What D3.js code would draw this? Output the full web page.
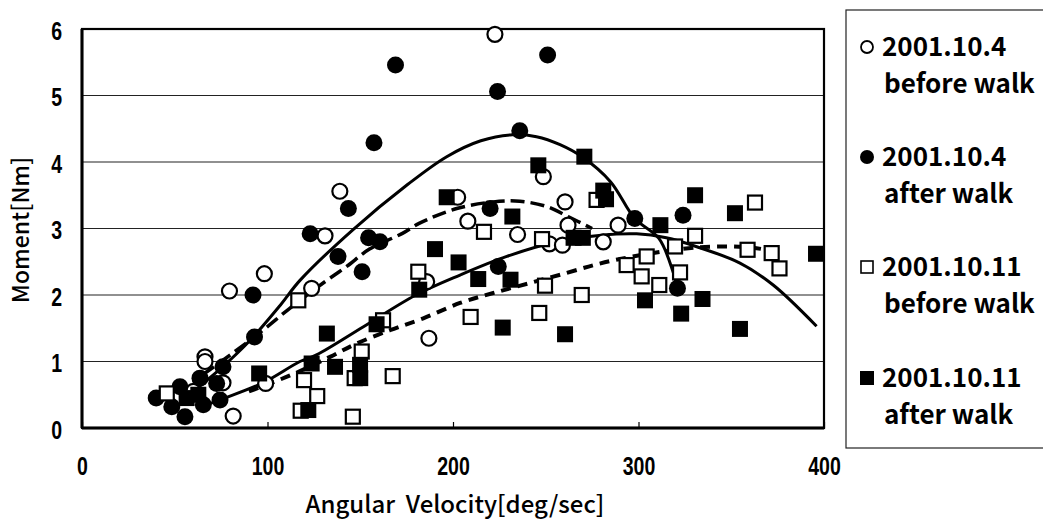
<!DOCTYPE html>
<html><head><meta charset="utf-8">
<script src="https://cdn.jsdelivr.net/npm/d3@7"></script>
<style>
html,body{margin:0;padding:0;background:#fff;}
svg{display:block;}
</style></head>
<body>
<svg id="c" width="1043" height="521"></svg>
<script>
// ---------- data ----------
const seriesNames = ["2001.10.4", "2001.10.4", "2001.10.11", "2001.10.11"];
const seriesSub = ["before walk", "after walk", "before walk", "after walk"];
const xTicks = [0, 100, 200, 300, 400];
const yTicks = [0, 1, 2, 3, 4, 5, 6];

// 2001.10.4 before walk (open circles) [velocity, moment]
const before1004 = [[222.6,5.92],[248.7,3.78],[139,3.56],[202.5,3.47],[208,3.11],[131,2.89],[234.8,2.91],
  [252,2.77],[259,2.75],[262,3.05],[260.4,3.40],[289,3.05],[281,2.80],[123.8,2.10],[98.3,2.32],[79.5,2.06],
  [187,1.35],[185.8,2.20],[66.3,1.07],[66.3,1.00],[99,0.67],[76,0.68],[81.5,0.18],[60,0.55]];
// 2001.10.4 after walk (filled circles)
const after1004 = [[169,5.46],[251,5.61],[224,5.06],[236,4.47],[157.4,4.29],[143.6,3.30],[220,3.30],[123,2.92],
  [154.5,2.86],[160.6,2.80],[138,2.58],[151,2.35],[92.2,2.0],[224.4,2.43],[298,3.15],[324,3.20],[321,2.1],
  [93,1.37],[40,0.45],[55.5,0.17],[52.8,0.62],[63.6,0.75],[72.6,0.67],[74.4,0.42],[65.4,0.35],[48.4,0.32],[76,0.92]];
// 2001.10.11 before walk (open squares)
const before1011 = [[216.7,2.95],[248,2.84],[116.6,1.92],[181.3,2.35],[249.6,2.14],[246.5,1.73],[209.5,1.67],
  [162.3,1.62],[150.8,1.15],[167.5,0.78],[119.7,0.72],[126.8,0.48],[117.9,0.26],[146,0.17],[277.4,3.43],
  [362.8,3.39],[330.5,2.89],[319.7,2.73],[358.8,2.68],[371.8,2.63],[376,2.40],[304.4,2.58],[293.6,2.45],
  [301.7,2.28],[322.4,2.34],[311.2,2.15],[269.4,2.0],[45.7,0.52],[147,0.75]];
// 2001.10.11 after walk (filled squares)
const after1011 = [[246,3.95],[270.8,4.08],[196.6,3.47],[232,3.18],[190.3,2.69],[203,2.49],[181.8,2.08],
  [213.6,2.24],[231,2.23],[226.8,1.51],[132,1.42],[158.8,1.56],[260.4,1.41],[123.8,0.97],[136.4,0.92],
  [149.9,0.95],[150,0.75],[122,0.27],[281,3.57],[282.5,3.44],[330.5,3.50],[352,3.23],[311.8,3.05],
  [265,2.86],[270,2.86],[395.7,2.62],[303.5,1.92],[334.5,1.94],[323,1.72],[354.7,1.49],[95.5,0.82],
  [56.4,0.45],[62.7,0.50]];

// fitted trend curves
const fitAfter1004 = [[60,0.55],[75,0.9],[90,1.3],[107,1.85],[117.5,2.22],[146,2.98],[175,3.65],[196.6,4.08],
  [215,4.32],[232,4.41],[245,4.38],[257.7,4.26],[270,4.07],[285,3.7],[298,3.15],[311,2.85],[318.6,2.35],[321,2.1]];
const fitBefore1004 = [[65,0.8],[80,1.1],[97.5,1.47],[112,1.8],[130,2.18],[142.7,2.43],[155,2.69],[173,2.93],
  [182,3.08],[202,3.30],[221.7,3.40],[236,3.41],[250.5,3.33],[262,3.18],[275,3.0]];
const fitAfter1011 = [[62,0.3],[77,0.45],[97.6,0.68],[117.5,1.0],[126.4,1.10],[151.5,1.52],[180,2.0],[203.8,2.30],
  [229,2.58],[256,2.80],[280,2.90],[299,2.92],[315,2.86],[331,2.73],[354.7,2.48],[372.6,2.15],[396,1.53]];
const fitBefore1011 = [[90,0.55],[113,0.8],[133.7,1.07],[148,1.27],[166,1.47],[184,1.65],[203.8,1.88],
  [221.7,2.03],[241.5,2.18],[261,2.33],[277.4,2.46],[291.6,2.55],[322.4,2.69],[342,2.73],[361.7,2.71],[372.6,2.66]];

// ---------- chart ----------
const svg = d3.select("#c");
const x = d3.scaleLinear().domain([0,400]).range([82,824]);
const y = d3.scaleLinear().domain([0,6]).range([428,29]);
const tickFont = "'Liberation Sans',Arial,sans-serif";
const textFont = "'Noto Sans CJK JP','Noto Sans',sans-serif";

// gridlines
svg.append("g").selectAll("line").data(yTicks.filter(d=>d>0 && d<6)).join("line")
  .attr("x1",x(0)).attr("x2",x(400)).attr("y1",d=>y(d)).attr("y2",d=>y(d))
  .attr("stroke","#222").attr("stroke-width",1.2);

// frame
svg.append("rect").attr("x",x(0)).attr("y",y(6)).attr("width",x(400)-x(0)).attr("height",y(0)-y(6))
  .attr("fill","none").attr("stroke","#000").attr("stroke-width",2.2);
svg.append("line").attr("x1",x(0)).attr("x2",x(0)).attr("y1",y(6)).attr("y2",y(0)).attr("stroke","#000").attr("stroke-width",3);
svg.append("line").attr("x1",x(0)).attr("x2",x(400)).attr("y1",y(0)).attr("y2",y(0)).attr("stroke","#000").attr("stroke-width",3);

// x axis
const xAxis = d3.axisBottom(x).tickValues(xTicks).tickSize(-6).tickPadding(30).tickFormat(d3.format("d"));
const gx = svg.append("g").attr("transform",`translate(0,${y(0)})`).call(xAxis);
gx.select(".domain").remove();
gx.selectAll(".tick line").attr("stroke","#000").attr("stroke-width",1.2);
gx.selectAll("text").attr("font-family",tickFont).attr("font-weight","bold").attr("font-size",23).attr("fill","#000")
  .attr("transform","translate(0,44) scale(0.85,1.1) translate(0,-44)");

// y axis
const yAxis = d3.axisLeft(y).tickValues(yTicks).tickSize(0).tickPadding(20).tickFormat(d3.format("d"));
const gy = svg.append("g").attr("transform",`translate(${x(0)},0)`).call(yAxis);
gy.select(".domain").remove();
gy.selectAll("text").attr("font-family",tickFont).attr("font-weight","bold").attr("font-size",23).attr("fill","#000")
  .attr("transform","translate(-20,2) scale(0.85,1.1) translate(20,0)");

// axis titles
svg.append("text").attr("x",455).attr("y",513).attr("text-anchor","middle")
  .attr("font-family",textFont).attr("font-size",24).attr("font-weight",500).attr("fill","#000")
  .attr("xml:space","preserve").text("Angular  Velocity[deg/sec]");
svg.append("text").attr("transform","translate(29,230) rotate(-90)").attr("text-anchor","middle")
  .attr("font-family",textFont).attr("font-size",23).attr("font-weight",500).attr("fill","#000")
  .text("Moment[Nm]");

// fit curves
const line = d3.line().x(d=>x(d[0])).y(d=>y(d[1])).curve(d3.curveCatmullRom.alpha(0.5));
const curves = [
  {d:fitAfter1004, dash:null, w:3},
  {d:fitBefore1004, dash:"14,6", w:3.5},
  {d:fitAfter1011, dash:null, w:3},
  {d:fitBefore1011, dash:"10,7", w:4}
];
svg.append("g").selectAll("path").data(curves).join("path")
  .attr("d",c=>line(c.d)).attr("fill","none").attr("stroke","#000")
  .attr("stroke-width",c=>c.w).attr("stroke-dasharray",c=>c.dash);

// markers
const R = 8.5, S = 16;
const gm = svg.append("g");
gm.selectAll(".oc").data(before1004).join("circle").attr("class","oc")
  .attr("cx",d=>x(d[0])).attr("cy",d=>y(d[1])).attr("r",R-1)
  .attr("fill","#fff").attr("stroke","#000").attr("stroke-width",2.2);
gm.selectAll(".fc").data(after1004).join("circle").attr("class","fc")
  .attr("cx",d=>x(d[0])).attr("cy",d=>y(d[1])).attr("r",R).attr("fill","#000");
gm.selectAll(".os").data(before1011).join("rect").attr("class","os")
  .attr("x",d=>x(d[0])-S/2+1).attr("y",d=>y(d[1])-S/2+1).attr("width",S-2).attr("height",S-2)
  .attr("fill","#fff").attr("stroke","#000").attr("stroke-width",2.2);
gm.selectAll(".fs").data(after1011).join("rect").attr("class","fs")
  .attr("x",d=>x(d[0])-S/2).attr("y",d=>y(d[1])-S/2).attr("width",S).attr("height",S).attr("fill","#000");

// legend
svg.append("rect").attr("x",846).attr("y",10).attr("width",220).attr("height",438)
  .attr("fill","none").attr("stroke","#222").attr("stroke-width",1.2);
const legY = [47, 157, 267, 378];
const lg = svg.append("g").selectAll("g").data(seriesNames).join("g")
  .attr("transform",(d,i)=>`translate(0,${legY[i]})`);
lg.each(function(d,i){
  const g = d3.select(this);
  if(i===0) g.append("circle").attr("cx",867).attr("cy",0).attr("r",6).attr("fill","#fff").attr("stroke","#000").attr("stroke-width",1.8);
  if(i===1) g.append("circle").attr("cx",867).attr("cy",0).attr("r",7).attr("fill","#000");
  if(i===2) g.append("rect").attr("x",861).attr("y",-6).attr("width",12).attr("height",12).attr("fill","#fff").attr("stroke","#000").attr("stroke-width",1.6);
  if(i===3) g.append("rect").attr("x",860).attr("y",-7).attr("width",14).attr("height",14).attr("fill","#000");
  g.append("text").attr("x",882).attr("y",9).attr("font-family",textFont).attr("font-size",26).attr("font-weight",700).attr("fill","#000").text(d);
  g.append("text").attr("x",884).attr("y",46).attr("font-family",textFont).attr("font-size",26).attr("font-weight",700).attr("fill","#000").text(seriesSub[i]);
});
</script>
</body></html>
